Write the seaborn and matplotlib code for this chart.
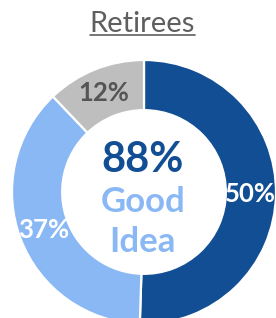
import matplotlib
matplotlib.use("Agg")
import matplotlib.pyplot as plt
import seaborn as sns
import numpy as np
from matplotlib.lines import Line2D

title = "Retirees"
categories = ["Very good idea", "Somewhat good idea", "Bad idea"]
values = [50, 37, 12]
value_labels = ["50%", "37%", "12%"]
center_value = "88%"
center_text = ["Good", "Idea"]

colors = ["#124E94", "#8AB8F5", "#BEBEBE"]
label_colors = ["white", "white", "#555555"]


def main():
    sns.set_theme(style="white")
    plt.rcParams["font.family"] = ["Lato", "DejaVu Sans"]

    W, H = 276, 318
    fig = plt.figure(figsize=(W / 100, H / 100), dpi=100)

    # pie centre at (144, 192) px from top-left, outer radius 132 px
    cx, cy, R = 144, 192, 132
    ax = fig.add_axes([(cx - R) / W, (H - cy - R) / H, 2 * R / W, 2 * R / H])
    ax.axis("off")

    pal = sns.color_palette(colors)
    wedges, _ = ax.pie(
        values,
        colors=pal,
        startangle=90,
        counterclock=False,
        radius=1,
        wedgeprops=dict(width=0.38, edgecolor="white", linewidth=1.6),
        frame=False,
    )
    ax.set_xlim(-1, 1)
    ax.set_ylim(-1, 1)

    # percent labels in the middle of the ring
    for w, lab, col in zip(wedges, value_labels, label_colors):
        mid = np.deg2rad((w.theta1 + w.theta2) / 2)
        r = 0.81
        ax.text(r * np.cos(mid), r * np.sin(mid), lab, ha="center", va="center",
                fontsize=18.5, fontweight="bold", color=col, clip_on=False)

    ax.text(-0.01, 0.152, center_value, ha="center", va="baseline",
            fontsize=30, fontweight="bold", color=colors[0])
    ax.text(-0.01, -0.152, center_text[0], ha="center", va="baseline",
            fontsize=25, fontweight="bold", color=colors[1])
    ax.text(-0.01, -0.455, center_text[1], ha="center", va="baseline",
            fontsize=25, fontweight="bold", color=colors[1])

    # underlined title
    t = fig.text(142.5 / W, 1 - 32 / H, title, ha="center", va="baseline",
                 fontsize=21, color="#5F5F5F")
    fig.canvas.draw()
    bb = t.get_window_extent().transformed(fig.transFigure.inverted())
    uy = 1 - 34.5 / H
    fig.add_artist(Line2D([bb.x0, bb.x1], [uy, uy], color="#5F5F5F", lw=1.2))

    fig.savefig("out.png", dpi=100)


if __name__ == "__main__":
    main()
